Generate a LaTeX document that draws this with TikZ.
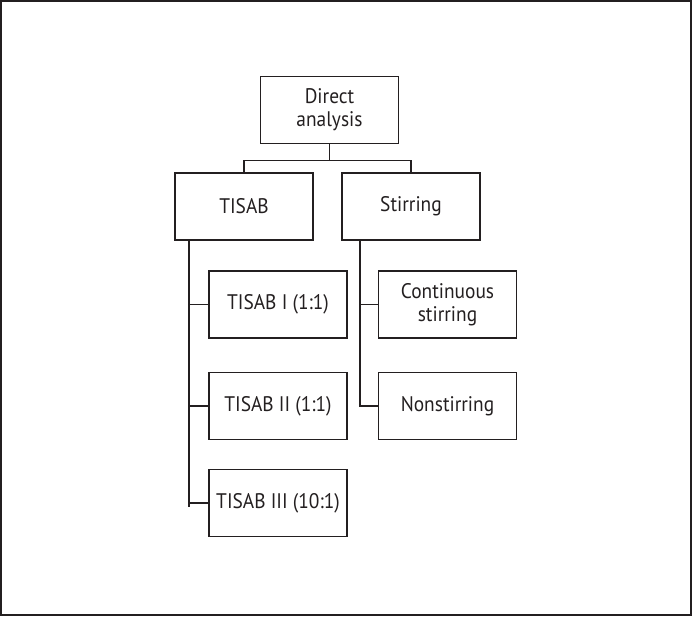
\documentclass[tikz,border=0pt]{standalone}
\usepackage{fontspec}
\setmainfont{PT Sans}[FakeStretch=0.92]
\usepackage{xcolor}
\definecolor{ink}{HTML}{231F20}

\begin{document}
\begin{tikzpicture}[x=0.025cm, y=-0.025cm, line width=1.2pt, draw=ink,
    box/.style={draw=ink, line width=1.2pt, minimum width=3.45cm, minimum height=1.68cm,
        inner sep=0pt, align=center, text=ink,
        font=\fontsize{15}{16.4}\selectfont}]
    % frame
    \draw[line width=1.5pt] (1,1) rectangle (691,615);

    \node[box] (DA) at (329.5,110) {Direct\\analysis};
    \node[box] (TI) at (244,206.5) {TISAB};
    \node[box] (ST) at (411,206.5) {Stirring};

    \node[box] (T1) at (278,304.5) {TISAB I (1:1)};
    \node[box] (T2) at (278,406) {TISAB II (1:1)};
    \node[box] (T3) at (278,503) {TISAB III (10:1)};

    \node[box] (CS) at (447.5,304.5) {Continuous\\stirring};
    \node[box] (NS) at (447.5,406) {Nonstirring};

    \draw (DA.south) -- ++(0,16) coordinate (m) -| (TI.north);
    \draw (m) -| (ST.north);

    \coordinate (lt) at ([xshift=0.375cm]TI.south west);
    \draw (lt) -- ([yshift=-0.1cm]lt |- T3.west);
    \draw (lt |- T1.west) -- (T1.west);
    \draw (lt |- T2.west) -- (T2.west);
    \draw (lt |- T3.west) -- (T3.west);

    \coordinate (rt) at ([xshift=0.475cm]ST.south west);
    \draw (rt) |- (NS.west);
    \draw (rt |- CS.west) -- (CS.west);
\end{tikzpicture}
\end{document}
